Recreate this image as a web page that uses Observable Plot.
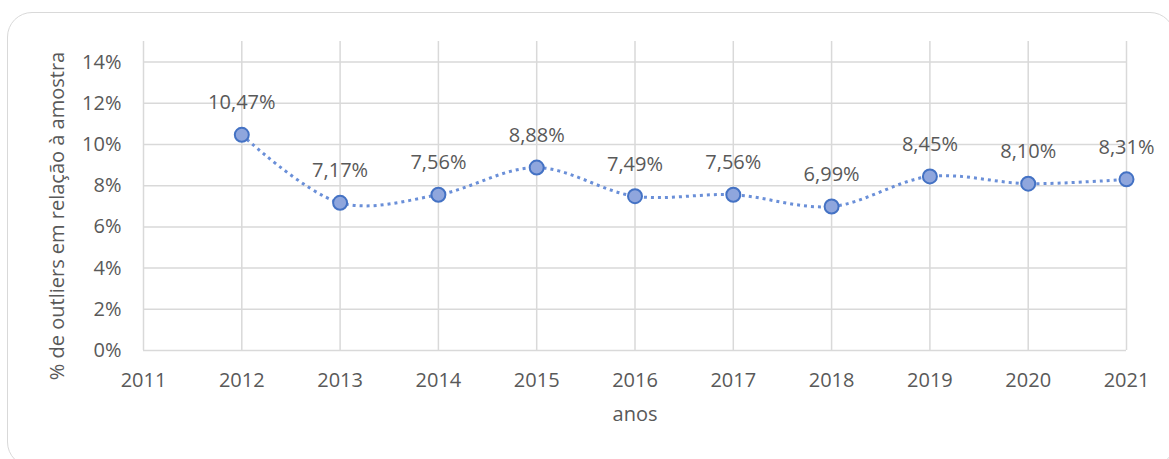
<!DOCTYPE html>
<html>
<head>
<meta charset="utf-8">
<script src="https://cdn.jsdelivr.net/npm/d3@7"></script>
<script src="https://cdn.jsdelivr.net/npm/@observablehq/plot@0.6"></script>
<style>
  html, body { margin: 0; padding: 0; background: #fff; overflow: hidden; }
  #wrap { position: relative; width: 1169px; height: 459px; overflow: hidden; }
  #frame { position: absolute; left: 7px; top: 12px; width: 1168px; height: 455px;
           border: 1.5px solid #d9d9d9; border-radius: 25px; pointer-events: none; box-sizing: border-box; }
  #chart svg { display: block; }
</style>
</head>
<body>
<div id="wrap"><div id="chart"></div><div id="frame"></div></div>
<script>
const years = [2012, 2013, 2014, 2015, 2016, 2017, 2018, 2019, 2020, 2021];
const values = [10.47, 7.17, 7.56, 8.88, 7.49, 7.56, 6.99, 8.45, 8.10, 8.31];
const xTicks = [2011, 2012, 2013, 2014, 2015, 2016, 2017, 2018, 2019, 2020, 2021];
const yTicks = [0, 2, 4, 6, 8, 10, 12, 14];
const xLabel = "anos";
const yLabel = "% de outliers em relação à amostra";

const data = years.map((y, i) => ({year: y, value: values[i]}));
const fmt = v => v.toFixed(2).replace(".", ",") + "%";
const grey = "#595959";
const grid = "#d9d9d9";

const chart = Plot.plot({
  width: 1169,
  height: 459,
  marginLeft: 143,
  marginRight: 43,
  marginTop: 41,
  marginBottom: 109,
  style: {fontFamily: "'Open Sans', sans-serif", fontSize: "20px", color: grey, background: "transparent"},
  x: {domain: [2011, 2021]},
  y: {domain: [0, 15]},
  marks: [
    Plot.gridX(xTicks, {stroke: grid, strokeOpacity: 1, strokeWidth: 1.5}),
    Plot.gridY(yTicks, {stroke: grid, strokeOpacity: 1, strokeWidth: 1.5, x1: 2011, x2: 2021}),
    Plot.axisX({ticks: xTicks, tickSize: 0, tickPadding: 22, tickFormat: d => String(d), label: null, fill: grey, fontSize: 20}),
    Plot.axisY({ticks: yTicks, tickSize: 0, tickPadding: 22, tickFormat: d => d + "%", label: null, fill: grey, fontSize: 20}),
    Plot.text([xLabel], {frameAnchor: "bottom", dy: 70, fill: grey, fontSize: 20}),
    Plot.text([yLabel], {frameAnchor: "left", textAnchor: "middle", rotate: -90, dx: -86, dy: 20, fill: grey, fontSize: 20}),
    Plot.line(data, {x: "year", y: "value", curve: "catmull-rom", stroke: "#6a8fd8", strokeWidth: 3, strokeDasharray: "3 4", strokeLinecap: "butt"}),
    Plot.dot(data, {x: "year", y: "value", r: 7, fill: "#8fa6dd", stroke: "#4472c4", strokeWidth: 2}),
    Plot.text(data, {x: "year", y: "value", text: d => fmt(d.value), dy: -32, fill: grey, fontSize: 20})
  ]
});
document.getElementById("chart").appendChild(chart);
</script>
</body>
</html>
